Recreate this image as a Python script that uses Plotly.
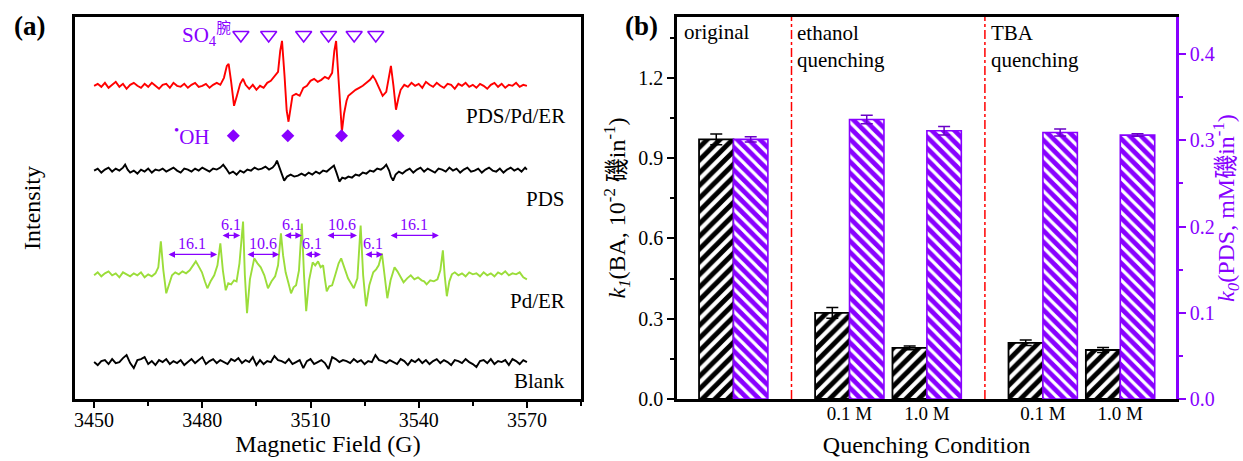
import plotly.graph_objects as go

W, H = 1243, 461

# ------------------------------------------------------------------ data
# Panel (a): EPR spectra, (field in G, relative intensity)
SPEC_RED = [  # PDS/Pd/ER
    (3450, 0), (3451, 2), (3452, -1), (3453, 3), (3454, -2), (3455, 1), (3456, 4), (3457, -1), (3458, 2), (3459, -3),
    (3460, 1), (3461, 3), (3462, 0), (3463, -2), (3464, 2), (3465, -1), (3466, 3), (3467, 0), (3468, -3), (3469, 1),
    (3470, 2), (3471, -2), (3472, 3), (3473, 0), (3474, -1), (3475, 2), (3476, -2), (3477, 1), (3478, 3), (3479, -1),
    (3480, 0), (3481, 2), (3482, -2), (3483, 1), (3484, 3), (3485, 1), (3486, 8), (3486.8, 20), (3487.3, 22), (3488, 4),
    (3488.8, -20), (3489.6, -10), (3490.5, 2), (3491.3, 7), (3492, 1), (3493, -3), (3494, 1), (3495, -4), (3496, 0), (3497, -2),
    (3498, 3), (3499, 5), (3500, 10), (3501, 14), (3501.6, 35), (3502.1, 45), (3502.8, 10), (3503.4, -25), (3503.9, -36), (3504.5, -22),
    (3505, -10), (3506, -8), (3507, -10), (3508, -2), (3509, 0), (3510, 5), (3511, 7), (3512, 4), (3513, 6), (3514, 9),
    (3515, 7), (3516, 13), (3516.6, 35), (3517.1, 45), (3517.8, 5), (3518.3, -30), (3518.7, -46), (3519.3, -28), (3520, -15), (3520.5, -10),
    (3521.5, -7), (3522.5, -4), (3523.5, -2), (3524.5, 0), (3525.5, 3), (3526.5, 6), (3527.3, 10), (3528, 6), (3529, -2), (3530, -10),
    (3531, -6), (3531.7, 10), (3532.3, 20), (3533, 0), (3533.7, -24), (3534.4, -12), (3535, -4), (3536, 1), (3537, -1), (3538, 3),
    (3539, 0), (3540, 2), (3541, -2), (3542, 4), (3543, 1), (3544, -1), (3545, 3), (3546, 0), (3547, -2), (3548, 2),
    (3549, 1), (3550, -3), (3551, 2), (3552, 0), (3553, 3), (3554, -1), (3555, 1), (3556, -2), (3557, 2), (3558, 0),
    (3559, -3), (3560, 1), (3561, 3), (3562, -1), (3563, 2), (3564, -2), (3565, 1), (3566, 0), (3567, 3), (3568, -1),
    (3569, 1), (3570, 0),
]

SPEC_PDS = [  # PDS
    (3450, 0), (3451, 2), (3452, -2), (3453, 1), (3454, 3), (3455, -1), (3456, 2), (3457, 0), (3458, 3), (3458.6, 6),
    (3459.3, 1), (3460, -2), (3461, 0), (3462, -3), (3463, 1), (3464, -1), (3465, 2), (3466, -2), (3467, 1), (3468, 0),
    (3469, 2), (3470, -1), (3471, 1), (3472, 3), (3473, 0), (3474, -2), (3475, 2), (3476, 1), (3477, -1), (3478, 2),
    (3479, 0), (3480, 3), (3481, 1), (3482, -1), (3483, 2), (3484, 1), (3485, 3), (3485.8, 6), (3486.6, 2), (3487.5, -3),
    (3488.5, -1), (3489.5, -4), (3490.5, 0), (3491.5, -2), (3492.5, 1), (3493.5, 0), (3494.5, 3), (3495.5, 1), (3496.5, 2), (3497.5, 4),
    (3498.5, 1), (3499.5, 3), (3500.2, 6), (3500.7, 10), (3501.5, 2), (3502.2, -6), (3502.7, -10), (3503.5, -6), (3504.5, -4), (3505.5, -6),
    (3506.5, -5), (3507.5, -3), (3508.5, -5), (3509.5, -2), (3510.5, -4), (3511.5, -1), (3512.5, -3), (3513.5, 0), (3514.5, -1), (3515.5, 2),
    (3516.5, 5), (3517.2, -2), (3518, -11), (3518.8, -7), (3519.6, -8), (3520.5, -6), (3521.5, -7), (3522.5, -4), (3523.5, -5), (3524.5, -2),
    (3525.5, -3), (3526.5, 0), (3527.5, -1), (3528.5, 2), (3529.5, 1), (3530.3, 3), (3531, 6), (3531.8, 0), (3532.3, -6), (3532.9, -10),
    (3533.6, -4), (3534.5, -1), (3535.5, -3), (3536.5, 0), (3537.5, 2), (3538.5, -2), (3539.5, 1), (3540.5, 3), (3541.5, -1), (3542.5, 2),
    (3543.5, 0), (3544.5, -2), (3545.5, 2), (3546.5, 1), (3547.5, -1), (3548.5, 3), (3549.5, 0), (3550.5, 2), (3551.5, -2), (3552.5, 1),
    (3553.5, 3), (3554.5, -1), (3555.5, 0), (3556.5, 2), (3557.5, -2), (3558.5, 1), (3559.5, 3), (3560.5, 0), (3561.5, -1), (3562.5, 2),
    (3563.5, -2), (3564.5, 1), (3565.5, 3), (3566.5, 0), (3567.5, 2), (3568.5, -1), (3569.5, 3), (3570, 1),
]

SPEC_GREEN = [  # Pd/ER
    (3450, 0), (3451, 3), (3452, -1), (3453, 2), (3454, 4), (3455, 0), (3456, 2), (3457, -2), (3458, 3), (3459, 1),
    (3460, -1), (3461, 2), (3462, 0), (3463, 3), (3464, -2), (3465, 1), (3466, -1), (3467, 2), (3467.8, 8), (3468.5, 34),
    (3469.2, 5), (3470, -18), (3470.8, -8), (3471.6, 0), (3472.5, 3), (3473.5, 1), (3474.5, 4), (3475.5, 2), (3476.5, 5), (3477.4, 10),
    (3478.2, 14), (3479, 9), (3479.9, 3), (3480.7, -6), (3481.4, -13), (3482.3, -6), (3483.3, 0), (3484.2, 10), (3485, 32), (3485.7, 5),
    (3486.5, -15), (3487.2, -8), (3488, -9), (3488.8, -5), (3489.5, -6), (3490.3, 12), (3491.3, 54), (3491.8, 0), (3492.4, -38), (3493.2, -4),
    (3494.4, 17), (3495.3, 12), (3496.2, 8), (3497.2, 0), (3498.2, -13), (3499.2, -6), (3500.2, -1), (3501, 10), (3501.8, 42), (3502.4, 20),
    (3503.1, 3), (3503.9, -8), (3504.6, -18), (3505.3, -12), (3506, -10), (3506.8, 5), (3507.6, 52), (3508.2, 0), (3508.8, -36), (3509.6, -5),
    (3510.6, 13), (3511.3, 10), (3512.1, 14), (3512.8, 8), (3513.5, 10), (3514, -4), (3514.5, -16), (3515.2, -11), (3516, -10), (3517, 2),
    (3517.8, 12), (3518.5, 17), (3519.4, 8), (3520.4, -3), (3521.2, -8), (3522, -13), (3523, -3), (3523.9, 50), (3524.6, 0), (3525.4, -31),
    (3526.3, -10), (3527.4, 3), (3528.2, 6), (3528.9, 10), (3529.8, 22), (3530.5, 0), (3531.3, -23), (3532.2, -5), (3533.3, 8), (3534.1, 4),
    (3534.8, 0), (3535.8, -7), (3536.8, -3), (3537.8, 0), (3538.8, -4), (3539.8, -2), (3540.8, -5), (3541.5, -6), (3542.2, -9), (3543.2, -5),
    (3544.2, -6), (3545.2, -4), (3546, 5), (3546.7, 25), (3547.2, 0), (3547.8, -21), (3548.5, -6), (3549.2, 1), (3550, 3), (3551, 0),
    (3552, 2), (3553, -1), (3554, 3), (3555, 1), (3556, 2), (3557, -1), (3558, 3), (3559, 0), (3560, 2), (3561, -1),
    (3562, 3), (3563, 1), (3564, 4), (3565, 0), (3566, 2), (3567, 1), (3568, 3), (3569, -2), (3570, -4),
]

BLANK_FIELD = list(range(3450, 3571))  # 1 G sweep step
BLANK_I = [
    0, -3, 1, 2, -2, 3, -1, 0, 4, 7,
    -1, -6, 2, 3, 5, -2, 1, -3, 2, 0,
    3, -2, 1, -1, 2, -3, 0, 3, -1, 2,
    5, -2, 1, 3, -1, 2, 0, -2, 3, 1,
    4, -1, 2, 0, 5, -3, 2, -2, 1, 0,
    6, 2, 1, -1, 3, -2, 0, 2, -6, 1,
    3, -2, 0, 2, -1, -7, 5, 3, 0, 2,
    1, -1, 3, 0, 2, -2, 1, 0, 7, 2,
    1, -1, 2, 0, -2, 3, 1, -3, 2, 0,
    3, -1, 2, -2, 1, 3, -1, 2, 0, -3,
    2, 1, -1, 3, 0, -2, -5, 1, 2, -1,
    3, -2, 1, 0, 2, -3, 3, 1, -2, 2,
    0,
]

SPEC_NAMES = ["PDS/Pd/ER", "PDS", "Pd/ER", "Blank"]
SO4_LINES = [3490.7, 3498.4, 3508.1, 3515.0, 3522.1, 3528.1]
OH_LINES = [3488.6, 3503.7, 3518.6, 3534.3]
# hyperfine spacings marked on Pd/ER: (start G, end G, label)
SPLIT_START = [3470.2, 3485.2, 3492.1, 3502.4, 3508.2, 3514.3, 3524.8, 3531.8]
SPLIT_END = [3484.1, 3490.5, 3501.3, 3507.6, 3512.9, 3522.9, 3530.1, 3545.6]
SPLIT_LABEL = ["16.1", "6.1", "10.6", "6.1", "6.1", "10.6", "6.1", "16.1"]

# Panel (b): rate constants
CONDITIONS = ["original", "ethanol 0.1 M", "ethanol 1.0 M", "TBA 0.1 M", "TBA 1.0 M"]
TICK_TEXT = ["0.1 M", "1.0 M", "0.1 M", "1.0 M"]
K1 = [0.97, 0.322, 0.191, 0.210, 0.183]
K1_ERR = [0.02, 0.02, 0.007, 0.01, 0.009]
K0 = [0.301, 0.324, 0.311, 0.309, 0.306]
K0_ERR = [0.003, 0.005, 0.005, 0.004, 0.0015]

# ------------------------------------------------------------------ style / layout
PURPLE = "#8800FF"
GREEN = "#9BDD3A"
FONT = "Liberation Serif, DejaVu Serif, Noto Sans CJK SC, serif"

X_POS = [1, 2.5, 3.5, 5, 6]          # category positions on panel (b)
SEP_POS = [1.75, 4.25]
BAR_W = 0.445
OFFSETS = [313, 228, 123, 36]
LABEL_DY = [-30, -28, -26, -19]
COLORS = ["#FF0000", "black", GREEN, "black"]


def px_x(p):
    return p / W


def px_y(p):
    return 1 - p / H


fig = go.Figure()

spectra = [
    ([p[0] for p in SPEC_RED], [p[1] for p in SPEC_RED]),
    ([p[0] for p in SPEC_PDS], [p[1] for p in SPEC_PDS]),
    ([p[0] for p in SPEC_GREEN], [p[1] for p in SPEC_GREEN]),
    (BLANK_FIELD, BLANK_I),
]
for (gx, iy), name, off, col in zip(spectra, SPEC_NAMES, OFFSETS, COLORS):
    fig.add_trace(go.Scatter(x=gx, y=[off + v for v in iy], mode="lines", name=name,
                             line=dict(color=col, width=1.9), xaxis="x", yaxis="y",
                             showlegend=False, hoverinfo="skip"))

fig.add_trace(go.Scatter(x=SO4_LINES, y=[364] * len(SO4_LINES), mode="markers", xaxis="x", yaxis="y",
                         marker=dict(symbol="triangle-down-open", size=14, color=PURPLE,
                                     line=dict(width=1.6, color=PURPLE)),
                         showlegend=False, hoverinfo="skip"))
fig.add_trace(go.Scatter(x=OH_LINES, y=[263] * len(OH_LINES), mode="markers", xaxis="x", yaxis="y",
                         marker=dict(symbol="diamond", size=10, color=PURPLE),
                         showlegend=False, hoverinfo="skip"))

# bars (panel b)
fig.add_trace(go.Bar(x=X_POS, y=K1, width=BAR_W, offset=-BAR_W, xaxis="x2", yaxis="y2",
                     name="k1",
                     marker=dict(color="white", line=dict(color="black", width=1.8),
                                 pattern=dict(shape="/", fgcolor="black", bgcolor="white",
                                              fgopacity=1, size=9, solidity=0.55)),
                     error_y=dict(type="data", array=K1_ERR, visible=True, color="black",
                                  thickness=1.5, width=6),
                     showlegend=False))
fig.add_trace(go.Bar(x=X_POS, y=K0, width=BAR_W, offset=0, xaxis="x2", yaxis="y3",
                     name="k0",
                     marker=dict(color=PURPLE, line=dict(color=PURPLE, width=1.6),
                                 pattern=dict(shape="\\", fgcolor="white", bgcolor=PURPLE,
                                              fgopacity=1, size=8, solidity=0.4)),
                     error_y=dict(type="data", array=K0_ERR, visible=True, color="#6A00C8",
                                  thickness=1.5, width=6),
                     showlegend=False))

ydom = [px_y(399), px_y(17)]

axis_common = dict(showgrid=False, zeroline=False, showline=True, linecolor="black",
                   linewidth=2.5, tickfont=dict(family=FONT, size=20, color="black"),
                   tickcolor="black", tickwidth=2)

fig.update_layout(
    width=W, height=H, margin=dict(l=0, r=0, t=0, b=0),
    paper_bgcolor="white", plot_bgcolor="white",
    font=dict(family=FONT, size=20, color="black"),
    barmode="overlay", showlegend=False,
    xaxis=dict(domain=[px_x(75), px_x(581)], range=[3444.7, 3585.0], anchor="y",
               tick0=3450, dtick=30, ticks="outside", ticklen=6, mirror=True,
               ticklabelstandoff=-5,
               minor=dict(ticks="outside", ticklen=4, dtick=15, tick0=3450, tickcolor="black", tickwidth=2),
               title=dict(text="Magnetic Field (G)", font=dict(family=FONT, size=24), standoff=0),
               automargin=False, **axis_common),
    yaxis=dict(domain=ydom, range=[-1, 382], anchor="x", showticklabels=False, ticks="",
               mirror=True, title=dict(text="Intensity", font=dict(family=FONT, size=24), standoff=25),
               automargin=False, **axis_common),
    xaxis2=dict(domain=[px_x(677), px_x(1176)], range=[0.27, 6.72], anchor="y2",
                tickmode="array", tickvals=X_POS[1:], ticktext=TICK_TEXT, ticks="", mirror=True,
                ticklabelstandoff=-5,
                title=dict(text="Quenching Condition", font=dict(family=FONT, size=24), standoff=14),
                automargin=False, **{**axis_common, "tickfont": dict(family=FONT, size=19, color="black")}),
    yaxis2=dict(domain=ydom, range=[0, 1.427], anchor="x2",
                tickmode="array", tickvals=[0, 0.3, 0.6, 0.9, 1.2], tickformat=".1f",
                ticks="outside", ticklen=7,
                minor=dict(ticks="outside", ticklen=4, tickmode="array",
                           tickvals=[0.15, 0.45, 0.75, 1.05, 1.35], tickcolor="black", tickwidth=2),
                title=dict(text="<i>k</i><sub><i>1</i></sub>(BA, 10<sup>-2</sup> 磯in<sup>-1</sup>)",
                           font=dict(family=FONT, size=24), standoff=6),
                automargin=False, **axis_common),
    yaxis3=dict(domain=ydom, range=[0, 0.4429], anchor="x2", overlaying="y2", side="right",
                tickmode="array", tickvals=[0, 0.1, 0.2, 0.3, 0.4], tickformat=".1f",
                ticks="outside", ticklen=7, showgrid=False, zeroline=False, showline=True,
                linecolor=PURPLE, linewidth=2.5, tickcolor=PURPLE, tickwidth=2,
                tickfont=dict(family=FONT, size=20, color=PURPLE),
                minor=dict(ticks="outside", ticklen=4, tickmode="array",
                           tickvals=[0.05, 0.15, 0.25, 0.35], tickcolor=PURPLE, tickwidth=2),
                title=dict(text="<i>k</i><sub><i>0</i></sub>(PDS, mM磯in<sup>-1</sup>)",
                           font=dict(family=FONT, size=24, color=PURPLE), standoff=8),
                automargin=False),
)

# separator lines in panel (b)
for xs in SEP_POS:
    fig.add_shape(type="line", xref="x2", yref="y2 domain", x0=xs, x1=xs, y0=0, y1=1,
                  line=dict(color="#FF0000", width=1.5, dash="dashdot"))

ann = []
# panel letters
ann.append(dict(text="<b>(a)</b>", xref="paper", yref="paper", x=px_x(29), y=px_y(26),
                xanchor="center", yanchor="middle",
                showarrow=False, font=dict(family=FONT, size=27)))
ann.append(dict(text="<b>(b)</b>", xref="paper", yref="paper", x=px_x(641), y=px_y(26),
                xanchor="center", yanchor="middle",
                showarrow=False, font=dict(family=FONT, size=27)))
# spectrum labels
for name, off, dy in zip(SPEC_NAMES, OFFSETS, LABEL_DY):
    ann.append(dict(text=name, xref="x", yref="y", x=3581.2, y=off + dy, xanchor="right",
                    yanchor="middle", showarrow=False, font=dict(family=FONT, size=21)))
# radical labels
ann.append(dict(text="SO<sub>4</sub><sup>腕</sup>", xref="x", yref="y", x=3488.6, y=364,
                xanchor="right", yanchor="middle", showarrow=False,
                font=dict(family=FONT, size=21, color=PURPLE)))
ann.append(dict(text="<sup>•</sup>OH", xref="x", yref="y", x=3482.6, y=263,
                xanchor="right", yanchor="middle", showarrow=False,
                font=dict(family=FONT, size=21, color=PURPLE)))
# hyperfine arrows
for i, (g0, g1, lab) in enumerate(zip(SPLIT_START, SPLIT_END, SPLIT_LABEL)):
    ya = 144 if i % 2 == 0 else 163
    ann.append(dict(x=g1, y=ya, ax=g0, ay=ya, xref="x", yref="y", axref="x", ayref="y",
                    text="", showarrow=True, arrowside="end+start", arrowhead=2,
                    startarrowhead=2, arrowsize=1, startarrowsize=1, arrowwidth=1.3,
                    arrowcolor=PURPLE))
    ann.append(dict(text=lab, xref="x", yref="y", x=(g0 + g1) / 2, y=ya + 11,
                    yanchor="middle", showarrow=False,
                    font=dict(family=FONT, size=16, color=PURPLE)))
# group labels panel (b)
ann.append(dict(text="original", xref="x2", yref="paper", x=0.34, y=px_y(32), xanchor="left",
                yanchor="middle", showarrow=False, font=dict(family=FONT, size=21)))
ann.append(dict(text="ethanol<br>quenching", xref="x2", yref="paper", x=1.80, y=px_y(19),
                xanchor="left", yanchor="top", align="left", showarrow=False,
                font=dict(family=FONT, size=21)))
ann.append(dict(text="TBA<br>quenching", xref="x2", yref="paper", x=4.30, y=px_y(19),
                xanchor="left", yanchor="top", align="left", showarrow=False,
                font=dict(family=FONT, size=21)))
fig.update_layout(annotations=ann)

fig.write_html(
    "out.html",
    config={"displayModeBar": False},
    post_script="document.body.style.margin='0';document.body.style.overflow='hidden';",
)
